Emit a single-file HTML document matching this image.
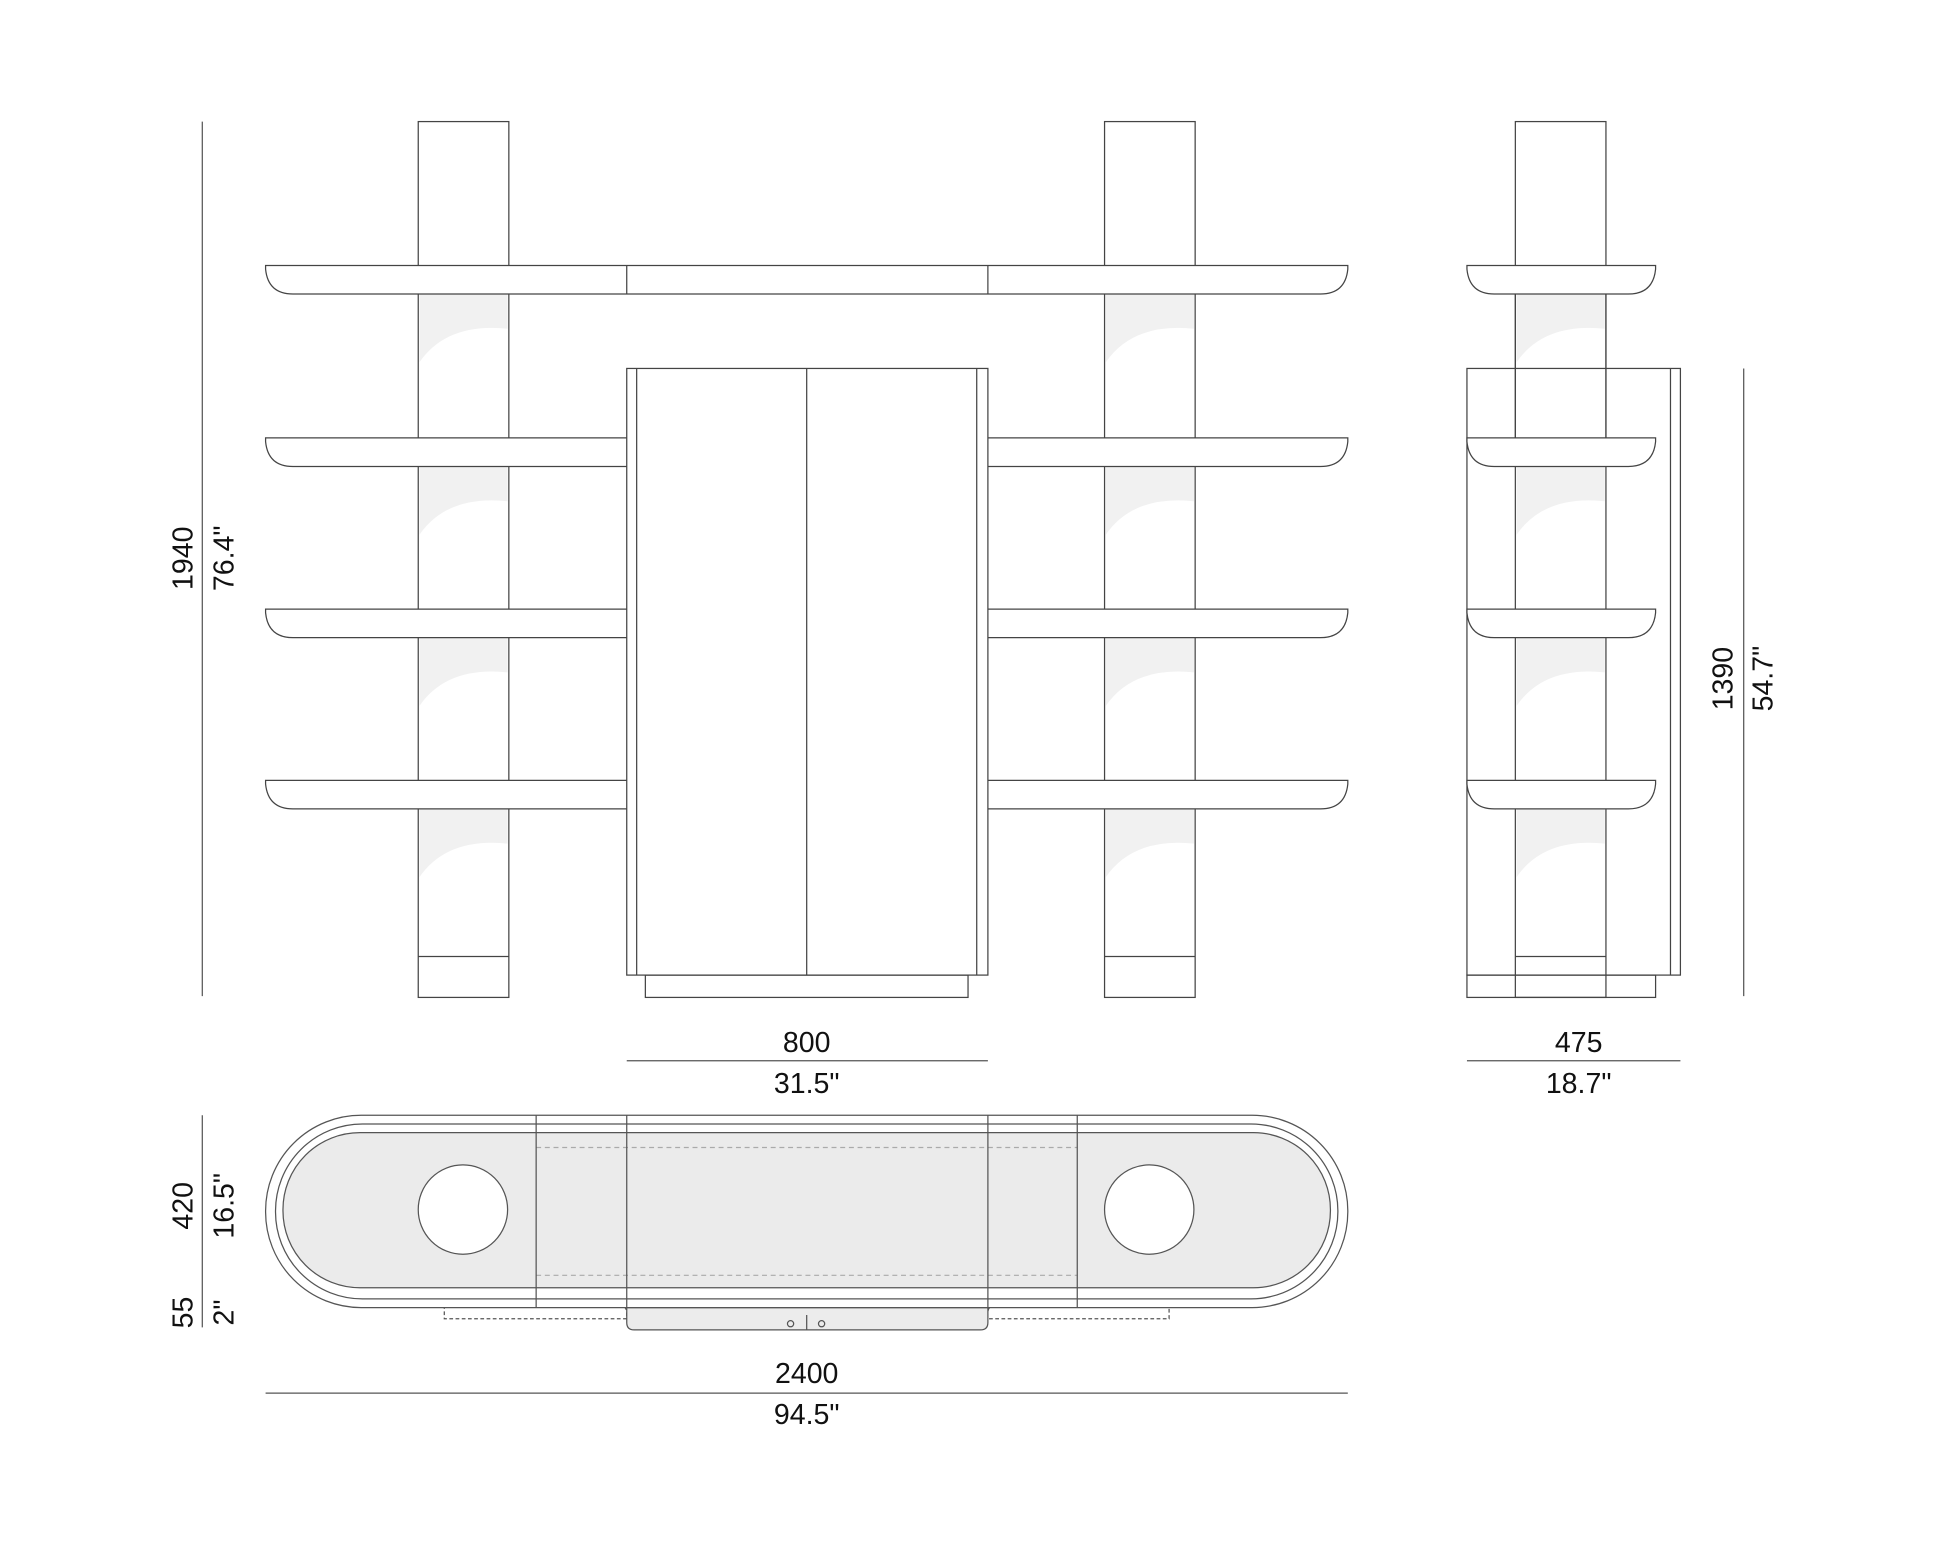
<!DOCTYPE html>
<html><head><meta charset="utf-8"><style>
html,body{margin:0;padding:0;background:#fff}
svg{display:block}
text{font-family:"Liberation Sans",sans-serif;font-size:23px;fill:#111;text-anchor:middle}
</style></head><body>
<svg width="1946" height="1547" viewBox="0 0 1568 1247" preserveAspectRatio="none" xmlns="http://www.w3.org/2000/svg">
<g fill="none" stroke="#444" stroke-width="1">
<!-- pillars -->
<rect x="337" y="98" width="73" height="706" fill="#fff"/>
<rect x="890" y="98" width="73" height="706" fill="#fff"/>
<rect x="1221" y="98" width="73" height="706" fill="#fff"/>
</g>
<!-- pillar shading -->
<g fill="#f1f1f1" stroke="none">
<path d="M338,237 H409 V265 Q360,260 338,292 Z"/><path d="M891,237 H962 V265 Q913,260 891,292 Z"/><path d="M1222,237 H1293 V265 Q1244,260 1222,292 Z"/>
<path d="M338,376 H409 V404 Q360,399 338,431 Z"/><path d="M891,376 H962 V404 Q913,399 891,431 Z"/><path d="M1222,376 H1293 V404 Q1244,399 1222,431 Z"/>
<path d="M338,514 H409 V542 Q360,537 338,569 Z"/><path d="M891,514 H962 V542 Q913,537 891,569 Z"/><path d="M1222,514 H1293 V542 Q1244,537 1222,569 Z"/>
<path d="M338,652 H409 V680 Q360,675 338,707 Z"/><path d="M891,652 H962 V680 Q913,675 891,707 Z"/><path d="M1222,652 H1293 V680 Q1244,675 1222,707 Z"/>
</g>
<g fill="#fff" stroke="#444" stroke-width="1">
<line x1="337" y1="771" x2="410" y2="771"/><line x1="890" y1="771" x2="963" y2="771"/><line x1="1221" y1="771" x2="1294" y2="771"/>
<!-- front shelves -->
<path d="M214,214 H1086 V217 Q1084,237 1064,237 H236 Q216,237 214,217 Z"/>
<line x1="505" y1="214" x2="505" y2="237"/><line x1="796" y1="214" x2="796" y2="237"/>
<path d="M214,353 H1086 V356 Q1084,376 1064,376 H236 Q216,376 214,356 Z"/>
<path d="M214,491 H1086 V494 Q1084,514 1064,514 H236 Q216,514 214,494 Z"/>
<path d="M214,629 H1086 V632 Q1084,652 1064,652 H236 Q216,652 214,632 Z"/>
<!-- cabinet -->
<rect x="520" y="786" width="260" height="18"/>
<rect x="505" y="297" width="291" height="489"/>
<line x1="513" y1="297" x2="513" y2="786"/><line x1="787" y1="297" x2="787" y2="786"/>
<line x1="650" y1="297" x2="650" y2="786"/>
<!-- side view -->
<rect x="1182" y="786" width="152" height="18" fill="none"/>
<rect x="1182" y="297" width="172" height="489" fill="none"/>
<line x1="1346" y1="297" x2="1346" y2="786"/>
<path d="M1182,214 H1334 V217 Q1332,237 1312,237 H1204 Q1184,237 1182,217 Z"/>
<path d="M1182,353 H1334 V356 Q1332,376 1312,376 H1204 Q1184,376 1182,356 Z"/>
<path d="M1182,491 H1334 V494 Q1332,514 1312,514 H1204 Q1184,514 1182,494 Z"/>
<path d="M1182,629 H1334 V632 Q1332,652 1312,652 H1204 Q1184,652 1182,632 Z"/>
<line x1="1221" y1="237" x2="1221" y2="353"/><line x1="1294" y1="237" x2="1294" y2="353"/>
</g>
<!-- dimension lines -->
<g stroke="#555" stroke-width="1">
<line x1="163" y1="98" x2="163" y2="803"/>
<line x1="1405" y1="297" x2="1405" y2="803"/>
<line x1="505" y1="855" x2="796" y2="855"/>
<line x1="1182" y1="855" x2="1354" y2="855"/>
<line x1="163" y1="899" x2="163" y2="1070"/>
<line x1="214" y1="1123" x2="1086" y2="1123"/>
</g>
<!-- plan view -->
<g stroke="#555" stroke-width="1">
<path d="M358,1053 H500 Q505,1053 505,1058 V1063 H358 Z" fill="#fff" stroke-dasharray="3,2"/>
<path d="M942,1053 H801 Q796,1053 796,1058 V1063 H942 Z" fill="#fff" stroke-dasharray="3,2"/>
<path d="M505,1054 V1066 Q505,1072 511,1072 H790 Q796,1072 796,1066 V1054 Z" fill="#ececec"/>
<rect x="214" y="899" width="872" height="155" rx="77" ry="77" fill="#fff"/>
<rect x="222" y="906" width="856" height="141" rx="70" ry="70" fill="none"/>
<rect x="228" y="913" width="844" height="125" rx="62" ry="62" fill="#ebebeb"/>
<line x1="432" y1="925" x2="868" y2="925" stroke="#aaa" stroke-dasharray="4,3"/>
<line x1="432" y1="1028" x2="868" y2="1028" stroke="#aaa" stroke-dasharray="4,3"/>
<line x1="432" y1="899" x2="432" y2="1054"/><line x1="505" y1="899" x2="505" y2="1054"/>
<line x1="796" y1="899" x2="796" y2="1054"/><line x1="868" y1="899" x2="868" y2="1054"/>
<circle cx="373" cy="975" r="36" fill="#fff"/>
<circle cx="926" cy="975" r="36" fill="#fff"/>
<line x1="650" y1="1060" x2="650" y2="1072"/>
<circle cx="637" cy="1067" r="2.5" fill="none"/><circle cx="662" cy="1067" r="2.5" fill="none"/>
</g>
<!-- labels -->
<text transform="translate(155,450) rotate(-90)">1940</text>
<text transform="translate(188,450) rotate(-90)">76.4"</text>
<text transform="translate(1396,547) rotate(-90)">1390</text>
<text transform="translate(1428,547) rotate(-90)">54.7"</text>
<text transform="translate(155,972) rotate(-90)">420</text>
<text transform="translate(188,972) rotate(-90)">16.5"</text>
<text transform="translate(155,1058) rotate(-90)">55</text>
<text transform="translate(188,1058) rotate(-90)">2"</text>
<text x="650" y="848">800</text>
<text x="650" y="881">31.5"</text>
<text x="1272" y="848">475</text>
<text x="1272" y="881">18.7"</text>
<text x="650" y="1115">2400</text>
<text x="650" y="1148">94.5"</text>
</svg>
</body></html>
